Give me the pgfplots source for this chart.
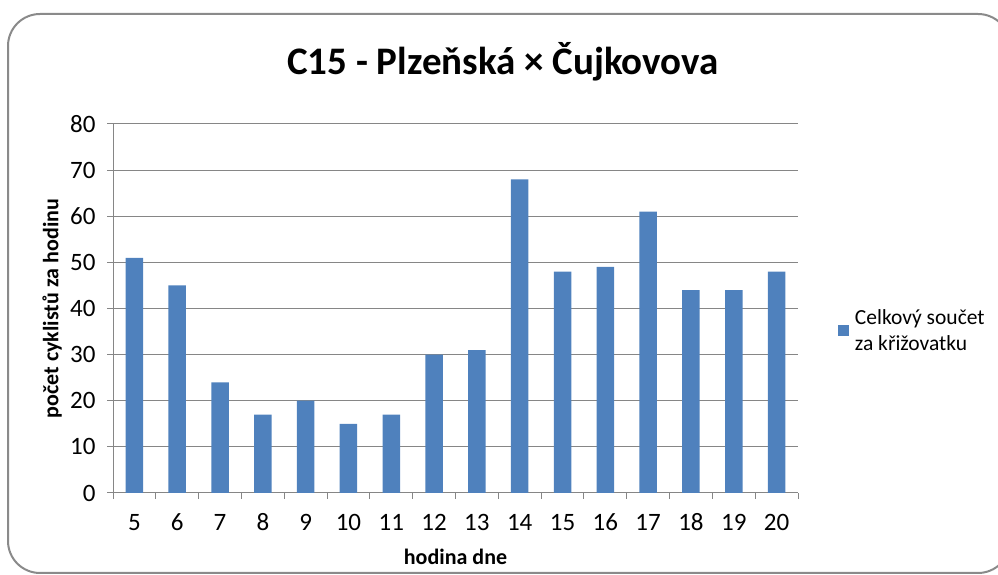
\documentclass[border=0pt]{standalone}
\usepackage{fontspec}
\setmainfont{Carlito}
\usepackage{pgfplots}
\pgfplotsset{compat=1.18}
\definecolor{barblue}{HTML}{4F81BD}
\definecolor{gridgray}{HTML}{868686}
\definecolor{framegray}{HTML}{8A8A8A}
\begin{document}
\begin{tikzpicture}
\path[use as bounding box] (0pt,0pt) rectangle (998pt,575pt);
\draw[framegray, line width=2pt, rounded corners=32pt] (8pt,2pt) rectangle (1010pt,561pt);
\node[font=\bfseries\fontsize{39}{44}\selectfont, anchor=base, inner sep=0pt] at (503pt,500pt) {C15 - Plzeňská × Čujkovova};
\begin{axis}[
  at={(113pt,82pt)}, anchor=south west, scale only axis,
  width=685pt, height=369pt,
  ymin=0, ymax=80, ytick={0,10,...,80},
  xmin=4.5, xmax=20.5,
  xtick={4.5,5.5,6.5,7.5,8.5,9.5,10.5,11.5,12.5,13.5,14.5,15.5,16.5,17.5,18.5,19.5,20.5},
  xticklabels={5,6,7,8,9,10,11,12,13,14,15,16,17,18,19,20},
  x tick label as interval,
  axis lines*=left,
  axis line style={gridgray, line width=1pt},
  tick align=outside, major tick length=6pt,
  tick style={gridgray, line width=1pt},
  ymajorgrids, grid style={gridgray, line width=1pt},
  /pgf/number format/assume math mode=true,
  ticklabel style={font=\fontsize{25}{29}\selectfont, text=black},
  xticklabel style={anchor=north, text height=16pt, text depth=0pt, yshift=-11.5pt},
  yticklabel style={xshift=-8pt},
  xlabel={hodina dne}, ylabel={počet cyklistů za hodinu},
  xlabel style={font=\bfseries\fontsize{22}{26}\selectfont, at={(axis description cs:0.5,-0.1734)}, anchor=center},
  ylabel style={font=\bfseries\fontsize{22}{26}\selectfont, at={(axis description cs:-0.089,0.5)}, anchor=center},
  legend style={at={(1.058,0.44)}, anchor=west, draw=none, fill=none, inner sep=0pt,
    font=\fontsize{21.5}{26}\selectfont, cells={align=left}},
  legend image code/.code={\fill[barblue] (0pt,-5.5pt) rectangle (11pt,5.5pt); \path (15pt,0pt);},
]
\addplot[ybar, bar width=17.5pt, fill=barblue, draw=none] coordinates {
(5,51) (6,45) (7,24) (8,17) (9,20) (10,15) (11,17) (12,30) (13,31) (14,68) (15,48) (16,49) (17,61) (18,44) (19,44) (20,48)};
\addlegendentry{Celkový součet\\za křižovatku}
\end{axis}
\end{tikzpicture}
\end{document}
